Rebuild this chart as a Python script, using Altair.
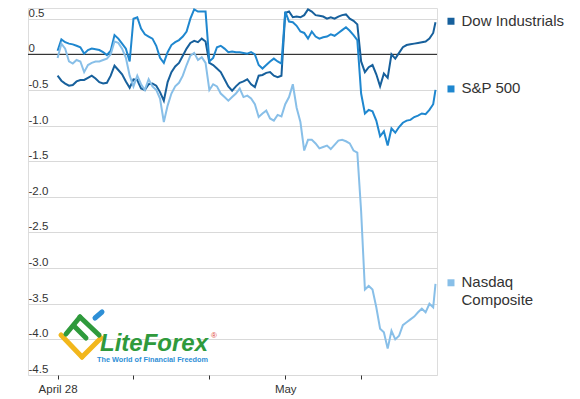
import altair as alt
import pandas as pd

# shared time grid in trading days from April 28 (0) to the close of the 5th day
times = [round(i * 0.05, 2) for i in range(100)] + [4.98]

dow = [
    -0.30, -0.37, -0.41, -0.44, -0.43, -0.38, -0.36, -0.36, -0.33, -0.30, -0.34, -0.39, -0.41, -0.40, -0.30, -0.16, -0.22, -0.28, -0.38, -0.47,
    -0.35, -0.36, -0.48, -0.50, -0.42, -0.41, -0.44, -0.53, -0.65, -0.39, -0.25, -0.17, -0.12, -0.02, 0.08, 0.16, 0.19, 0.17, 0.22, 0.18,
    -0.12, -0.15, -0.20, -0.25, -0.35, -0.45, -0.51, -0.45, -0.40, -0.38, -0.35, -0.42, -0.46, -0.30, -0.29, -0.26, -0.25, -0.30, -0.32, -0.30,
    0.58, 0.60, 0.52, 0.53, 0.52, 0.55, 0.63, 0.60, 0.55, 0.54, 0.53, 0.50, 0.52, 0.50, 0.53, 0.55, 0.56, 0.50, 0.47, 0.42,
    -0.10, -0.25, -0.18, -0.15, -0.28, -0.45, -0.27, -0.33, 0.00, -0.06, 0.02, 0.10, 0.13, 0.14, 0.15, 0.16, 0.17, 0.18, 0.22, 0.30, 0.45,
]
sp500 = [
    0.05, 0.21, 0.17, 0.15, 0.14, 0.12, 0.10, 0.01, 0.06, 0.08, 0.07, 0.06, 0.03, -0.01, 0.05, 0.27, 0.22, 0.15, 0.08, -0.10,
    0.50, 0.52, 0.36, 0.28, 0.25, 0.22, 0.12, -0.05, -0.12, 0.03, 0.13, 0.17, 0.20, 0.25, 0.32, 0.50, 0.63, 0.60, 0.60, 0.60,
    -0.10, -0.05, 0.10, 0.12, 0.08, 0.03, 0.04, 0.03, 0.03, 0.02, 0.01, 0.03, 0.00, -0.15, -0.20, -0.15, -0.10, -0.06, -0.10, -0.13,
    0.60, 0.46, 0.45, 0.40, 0.32, 0.30, 0.22, 0.32, 0.25, 0.22, 0.24, 0.25, 0.28, 0.26, 0.30, 0.34, 0.38, 0.33, 0.27, 0.20,
    -0.55, -0.83, -0.78, -0.80, -0.93, -1.15, -1.08, -1.28, -1.04, -1.10, -1.02, -0.96, -0.93, -0.92, -0.88, -0.86, -0.83, -0.84, -0.78, -0.70, -0.50,
]
nasdaq = [
    -0.05, 0.15, 0.08, -0.10, -0.13, -0.08, -0.10, -0.25, -0.15, -0.12, -0.10, -0.10, -0.08, -0.06, 0.00, 0.18, 0.16, 0.08, -0.05, -0.30,
    -0.45, -0.30, -0.42, -0.50, -0.35, -0.45, -0.50, -0.62, -0.95, -0.72, -0.55, -0.45, -0.40, -0.30, -0.15, -0.02, 0.02, -0.08, -0.04, -0.12,
    -0.50, -0.42, -0.45, -0.55, -0.60, -0.65, -0.60, -0.55, -0.48, -0.60, -0.58, -0.62, -0.70, -0.88, -0.83, -0.79, -0.90, -0.93, -0.85, -0.87,
    -0.70, -0.60, -0.42, -0.75, -0.95, -1.35, -1.20, -1.20, -1.25, -1.32, -1.30, -1.28, -1.33, -1.27, -1.21, -1.20, -1.22, -1.25, -1.35, -1.38,
    -2.20, -3.30, -3.25, -3.30, -3.55, -3.85, -3.90, -4.13, -3.88, -4.00, -3.95, -3.80, -3.76, -3.72, -3.68, -3.62, -3.57, -3.62, -3.50, -3.55, -3.22,
]

series_names = ["Dow Industrials", "S&P 500", "Nasdaq Composite"]
series_labels = [["Dow Industrials"], ["S&P 500"], ["Nasdaq", "Composite"]]
series_colors = ["#17609c", "#1f87cf", "#88bfe8"]
x_tick_values = [0, 1, 2, 3, 4]
x_tick_labels = ["April 28", "", "", "May", ""]
y_tick_values = [0.5, 0, -0.5, -1.0, -1.5, -2.0, -2.5, -3.0, -3.5, -4.0, -4.5]

# decorative watermark logo strokes (pixel space of the plot area)
logo_x = [33, 54, 54, 73, 38, 52, 52, 71, 46, 58, 67, 74]
logo_y = [327, 349, 349, 330, 326, 309, 309, 327, 318, 330, 310, 304]
logo_part = ["y1", "y1", "y2", "y2", "g1", "g1", "g2", "g2", "g3", "g3", "b1", "b1"]
logo_color = ["#f2b71c"] * 4 + ["#2f9a3c"] * 6 + ["#2e8fd6"] * 2

rows = []
for name, vals in zip(series_names, [dow, sp500, nasdaq]):
    for t, v in zip(times, vals):
        rows.append({"t": t, "v": v, "series": name})
df = pd.DataFrame(rows)

end_df = pd.DataFrame({
    "t": [times[-1]] * 3,
    "v": [dow[-1], sp500[-1], nasdaq[-1]],
    "series": series_names,
    "label": series_labels,
})

FONT = "Liberation Sans"
NBSP = "\u00a0"
label_map = " : ".join(
    f"datum.value == {v} ? '{l}'" for v, l in zip(x_tick_values, x_tick_labels)
) + " : ''"
y_label_expr = (
    f"datum.value == 0 ? '{NBSP}0' : (datum.value < 0 ? '-' + format(-datum.value, '.1f') "
    f": '{NBSP}' + format(datum.value, '.1f'))"
)

x_scale = alt.Scale(domain=[-0.39, 5.0], nice=False, zero=False)
y_scale = alt.Scale(domain=[-4.5, 0.65], nice=False, zero=False)
color_scale = alt.Scale(domain=series_names, range=series_colors)

x_axis = alt.Axis(values=x_tick_values, labelExpr=label_map, grid=False, domain=False,
                  ticks=True, tickSize=4, tickColor="#333", tickWidth=1, tickCount=12,
                  labelFont=FONT, labelFontSize=11.5, labelColor="#333",
                  labelPadding=4, labelFlush=False, labelOverlap=False)
y_axis = alt.Axis(values=y_tick_values, tickCount=20, labelExpr=y_label_expr,
                  grid=True, gridColor="#d9d9d9", gridWidth=1, domain=False,
                  ticks=False, tickSize=0, labelAlign="left", labelBaseline="alphabetic",
                  labelPadding=0, labelOffset=-2.5, labelFont=FONT, labelFontSize=11.5,
                  labelColor="#333", labelFlush=False, labelOverlap=False)

x_enc = alt.X("t:Q", scale=x_scale, title=None, axis=x_axis)
y_enc = alt.Y("v:Q", scale=y_scale, title=None, axis=y_axis)

lines = alt.Chart(df).mark_line(strokeWidth=2, interpolate="linear").encode(
    x=x_enc, y=y_enc,
    color=alt.Color("series:N", scale=color_scale, legend=None),
    detail="series:N",
)

zero_rule = alt.Chart(pd.DataFrame({"v": [0]})).mark_rule(color="#111", strokeWidth=1).encode(
    y=y_enc
)

squares = alt.Chart(end_df).mark_square(size=49, opacity=1, xOffset=15.5, yOffset=-1).encode(
    x=x_enc, y=y_enc,
    color=alt.Color("series:N", scale=color_scale, legend=None),
)

labels = alt.Chart(end_df).mark_text(
    align="left", baseline="alphabetic", dx=26, dy=3.5, font=FONT, fontSize=15,
    color="#333", lineHeight=18,
).encode(x=x_enc, y=y_enc, text="label")

logo_df = pd.DataFrame({"px": logo_x, "py": logo_y, "part": logo_part, "col": logo_color})
logo_icon = alt.Chart(logo_df).mark_line(strokeWidth=5, strokeCap="round").encode(
    x=alt.X("px:Q", scale=None),
    y=alt.Y("py:Q", scale=None),
    detail="part:N",
    color=alt.Color("col:N", scale=None),
)

logo_main = alt.Chart(pd.DataFrame({"s": ["LiteForex"]})).mark_text(
    align="left", baseline="alphabetic", font=FONT, fontSize=24, fontWeight="bold",
    fontStyle="italic", color="#2f9a3c",
).encode(x=alt.value(72), y=alt.value(343), text="s")

logo_reg = alt.Chart(pd.DataFrame({"s": ["®"]})).mark_text(
    align="left", baseline="alphabetic", font=FONT, fontSize=8, color="#e0473a",
).encode(x=alt.value(183), y=alt.value(330), text="s")

logo_tag = alt.Chart(pd.DataFrame({"s": ["The World of Financial Freedom"]})).mark_text(
    align="left", baseline="alphabetic", font=FONT, fontSize=7.3, fontWeight="bold",
    color="#2e8fd6",
).encode(x=alt.value(69), y=alt.value(354), text="s")

chart = alt.layer(
    zero_rule, lines, squares, labels, logo_icon, logo_main, logo_reg, logo_tag
).properties(
    width=409, height=367,
    padding={"left": 20, "top": 0, "right": 135, "bottom": 24},
    autosize=alt.AutoSizeParams(type="none"),
).configure_view(strokeWidth=0).configure(background="white")

chart.save("out.html", embed_options={"renderer": "svg", "actions": False})
